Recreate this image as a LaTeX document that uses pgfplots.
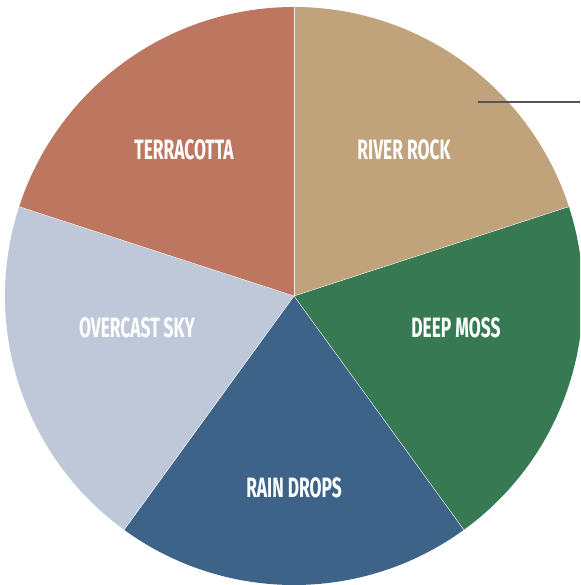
\documentclass[border=0pt]{standalone}
\usepackage{pgfplots}
\usepackage{pgfplotstable}
\usepackage{fontspec}
\pgfplotsset{compat=1.18}
\newfontfamily\labelfont[FakeStretch=0.62]{Fira Sans Bold}

\definecolor{riverrock}{HTML}{C0A27B}
\definecolor{deepmoss}{HTML}{367953}
\definecolor{raindrops}{HTML}{3D6389}
\definecolor{overcast}{HTML}{BEC8D8}
\definecolor{terracotta}{HTML}{BD7760}
\definecolor{leader}{HTML}{555555}

% slices clockwise from 12 o'clock; lx, ly = label centre (pixels, y up)
\pgfplotstableread[col sep=comma]{
label,value,colour,lx,ly
RIVER ROCK,20,riverrock,404,435
DEEP MOSS,20,deepmoss,456,257
RAIN DROPS,20,raindrops,294,97
OVERCAST SKY,20,overcast,137,257
TERRACOTTA,20,terracotta,184,435
}\piedata

\begin{document}
\begin{tikzpicture}
\useasboundingbox (0,0) rectangle (580pt,585pt);
\clip (0,0) rectangle (580pt,585pt);
\begin{axis}[
    hide axis,
    scale only axis,
    width=580pt, height=585pt,
    xmin=0, xmax=580, ymin=0, ymax=585,
    clip=false,
]
\pgfplotsextra{%
  \pgfmathsetmacro{\total}{0}%
  \foreach \i in {0,...,4}{%
    \pgfplotstablegetelem{\i}{value}\of\piedata
    \global\let\v\pgfplotsretval
    \pgfmathsetmacro{\total}{\total+\v}%
    \xdef\total{\total}%
  }%
  \gdef\start{90}%
  \foreach \i in {0,...,4}{%
    \pgfplotstablegetelem{\i}{value}\of\piedata
    \let\v\pgfplotsretval
    \pgfplotstablegetelem{\i}{colour}\of\piedata
    \let\c\pgfplotsretval
    \pgfmathsetmacro{\stop}{\start-360*\v/\total}%
    \fill[\c] (axis cs:294,289) -- ++(\start:289pt)
      arc[start angle=\start, end angle=\stop, radius=289pt] -- cycle;
    \draw[white, line width=0.4pt] (axis cs:294,289) -- ++(\start:289pt);
    \xdef\start{\stop}%
  }%
  \foreach \i in {0,...,4}{%
    \pgfplotstablegetelem{\i}{label}\of\piedata
    \let\l\pgfplotsretval
    \pgfplotstablegetelem{\i}{lx}\of\piedata
    \let\x\pgfplotsretval
    \pgfplotstablegetelem{\i}{ly}\of\piedata
    \let\y\pgfplotsretval
    \node[text=white, font=\labelfont\fontsize{28}{30}\selectfont, inner sep=0pt]
      at (axis cs:\x,\y) {\l};
  }%
}
\addplot[leader, line width=2.4pt] coordinates {(478,483) (580,483)};
\end{axis}
\end{tikzpicture}
\end{document}
